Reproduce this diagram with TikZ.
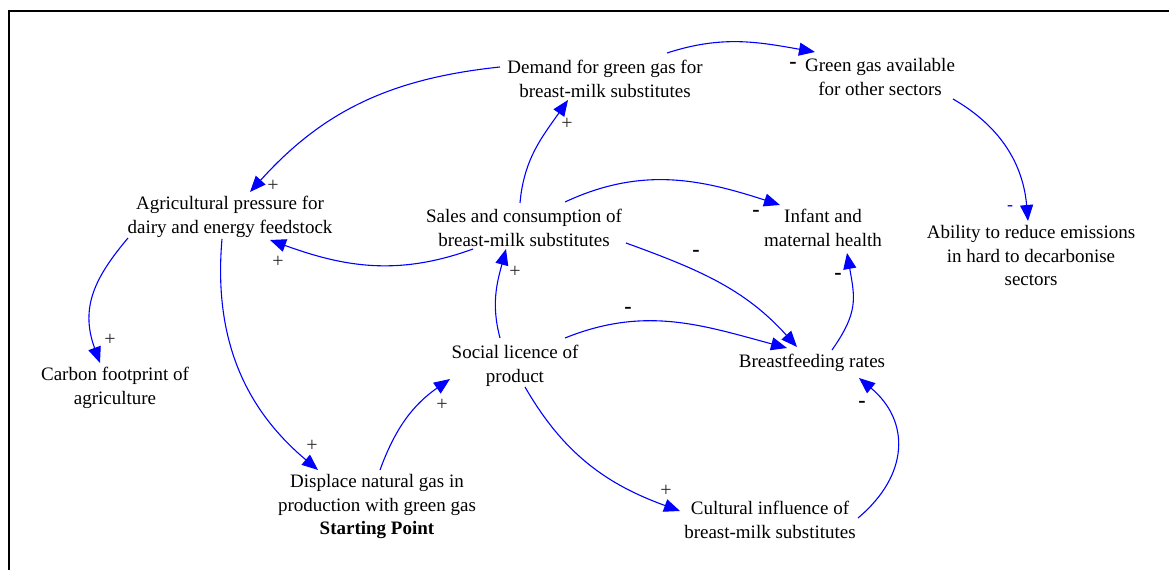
\documentclass[tikz,border=0pt]{standalone}
\usepackage{fontspec}
\setmainfont{Liberation Serif}
\usetikzlibrary{arrows.meta,calc}
\definecolor{linkblue}{RGB}{0,0,255}
\definecolor{plusgray}{RGB}{40,40,40}
\tikzset{
  var/.style={align=center,inner sep=0pt,font=\fontsize{19}{23.5}\selectfont},
  link/.style={draw=linkblue,line width=1.1pt,-{Triangle[length=16pt,width=13pt]}},
  plussign/.style={inner sep=0pt,text=plusgray,font=\fontsize{20}{20}\selectfont},
  minussign/.style={inner sep=0pt,font=\fontsize{22}{20}\selectfont\bfseries},
}
\begin{document}
\begin{tikzpicture}[x=1pt,y=1pt]
\useasboundingbox (0,0) rectangle (1169,570);
\draw[line width=1.7pt] (1169,559.2) -- (9.2,559.2) -- (9.2,0);

\node[var] (demand) at (605,491) {Demand for green gas for\\breast-milk substitutes};
\node[var] (green) at (880,493) {Green gas available\\for other sectors};
\node[var] (agri) at (230,353) {Agricultural pressure for\\dairy and energy feedstock};
\node[var] (sales) at (524,342) {Sales and consumption of\\breast-milk substitutes};
\node[var] (infant) at (823,342) {Infant and\\maternal health};
\node[var] (ability) at (1031,314) {Ability to reduce emissions\\in hard to decarbonise\\sectors};
\node[var] (carbon) at (115,182) {Carbon footprint of\\agriculture};
\node[var] (social) at (515,204) {Social licence of\\product};
\node[var] (breast) at (812,207) {Breastfeeding rates};
\node[var] (displace) at (377,63) {Displace natural gas in\\production with green gas\\\textbf{Starting Point}};
\node[var] (cultural) at (770,50) {Cultural influence of\\breast-milk substitutes};

% connectors
\draw[link] ($(demand)+(-105,12)$) to[out=186,in=48] ($(agri)+(20,25)$);
\draw[link] ($(demand)+(62,26)$) to[out=18,in=170] ($(green)+(-65,25)$);
\draw[link] ($(green)+(73,-22)$) to[out=-30,in=95] ($(ability)+(-3,35)$);
\draw[link] ($(sales)+(-4,25)$) to[out=85,in=235] ($(demand)+(-37,-21)$);
\draw[link] ($(sales)+(41,26)$) to[out=25,in=162] ($(infant)+(-43,23)$);
\draw[link] ($(sales)+(-51,-21)$) to[out=200,in=-20] ($(agri)+(40,-23)$);
\draw[link] ($(sales)+(102,-15)$) to[out=-20,in=132] ($(breast)+(-15,16)$);
\draw[link] ($(social)+(-15,28)$) to[out=105,in=255] ($(sales)+(-18,-21)$);
\draw[link] ($(social)+(50,28)$) to[out=22,in=165] ($(breast)+(-25,15)$);
\draw[link] ($(social)+(10,-21)$) to[out=-60,in=160] ($(cultural)+(-90,9)$);
\draw[link] ($(cultural)+(88,2)$) to[out=40,in=-40,out distance=67pt,in distance=67pt] ($(breast)+(47,-15)$);
\draw[link] ($(breast)+(20,13)$) to[out=55,in=280,looseness=1.2] ($(infant)+(24,-25)$);
\draw[link] ($(agri)+(-102,-21)$) to[out=230,in=110,out distance=50pt,in distance=60pt] ($(carbon)+(-15,25)$);
\draw[link] ($(agri)+(-8,-22)$) to[out=265,in=140] ($(displace)+(-59,37)$);
\draw[link] ($(displace)+(3,37)$) to[out=70,in=215] ($(social)+(-65,-13)$);

% polarity labels
\node[plussign] (p1) at (273,384) {+};
\node[minussign] (n1) at (793,505) {-};
\node[inner sep=0pt,text=linkblue,font=\fontsize{18}{20}\selectfont] (n2) at (1010,362) {-};
\node[plussign] (p2) at (567,446) {+};
\node[minussign] (n3) at (756,357) {-};
\node[plussign] (p3) at (278,308) {+};
\node[minussign] (n4) at (696,317) {-};
\node[plussign] (p4) at (515,298) {+};
\node[minussign] (n5) at (628,260) {-};
\node[plussign] (p5) at (666,79) {+};
\node[minussign] (n6) at (862,166) {-};
\node[minussign] (n7) at (838,294) {-};
\node[plussign] (p6) at (110,230) {+};
\node[plussign] (p7) at (312,124) {+};
\node[plussign] (p8) at (442,165) {+};
\end{tikzpicture}
\end{document}
